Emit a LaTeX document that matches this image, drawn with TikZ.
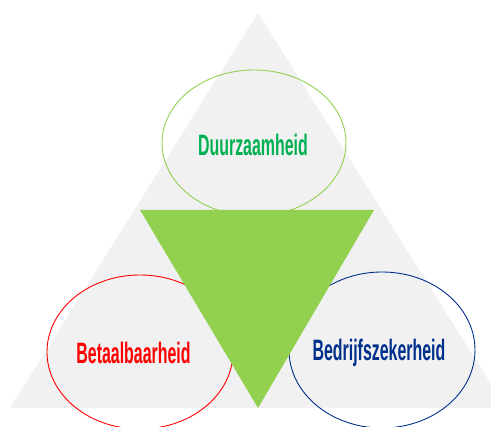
\documentclass[tikz,border=0pt]{standalone}
\usepackage{fontspec}
\usetikzlibrary{shapes.geometric}
\setmainfont[FakeStretch=0.54]{Liberation Sans}
\definecolor{tri}{HTML}{F1F1F1}
\definecolor{lgreen}{HTML}{92D050}
\definecolor{dgreen}{HTML}{00B050}
\definecolor{navy}{HTML}{00308C}
\begin{document}
\begin{tikzpicture}[x=1pt,y=1pt,
  ring/.style={draw,line width=0.9pt,ellipse,inner sep=0pt},
  lbl/.style={font=\bfseries\fontsize{29.5}{33}\selectfont,inner sep=0pt}]
\useasboundingbox (0,0) rectangle (491,427);
\clip (0,0) rectangle (491,427);
\fill[tri] (258,414) -- (10,19) -- (506,19) -- cycle;
\node[ring,draw=lgreen,minimum width=184pt,minimum height=146pt] (top) at (254,284) {};
\node[ring,draw=red,minimum width=186pt,minimum height=154pt] (left) at (140,75) {};
\node[ring,draw=navy,minimum width=186pt,minimum height=156pt] (right) at (382,77) {};
\fill[lgreen] (140,217) -- (374,217) -- (258,19) -- cycle;
\node[lbl,text=dgreen] (t1) at (253,282) {Duurzaamheid};
\node[lbl,text=red] (t2) at (133.5,74) {Betaalbaarheid};
\node[lbl,text=navy] (t3) at (379,74) {Bedrijfszekerheid};
\end{tikzpicture}
\end{document}
